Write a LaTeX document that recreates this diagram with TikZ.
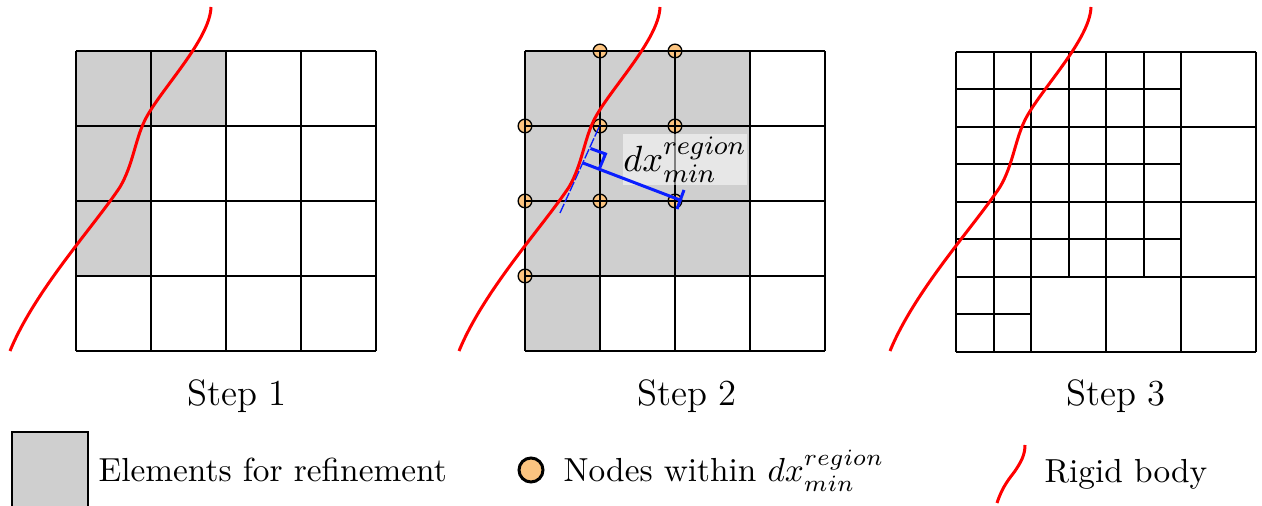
\documentclass[tikz,border=0pt]{standalone}
\definecolor{refgray}{RGB}{207,207,207}
\definecolor{nodeorange}{RGB}{252,196,128}
\definecolor{dxblue}{RGB}{10,30,255}
\begin{document}
\begin{tikzpicture}[x=0.3pt,y=-0.3pt,
  gridline/.style={line width=0.6pt, black},
  rigid/.style={red, line width=0.9pt},
  refcell/.style={fill=refgray},
  nodept/.style={circle, draw=black, line width=0.4pt, fill=nodeorange, minimum size=4.1pt, inner sep=0pt},
  steplabel/.style={font=\fontsize{11}{13}\selectfont},
  legendtext/.style={font=\fontsize{10}{12}\selectfont, anchor=base west, inner sep=0pt},
  dxline/.style={dxblue, line width=0.9pt},
  dxbox/.style={fill=white, fill opacity=0.5, text opacity=1, minimum width=37.2pt, minimum height=15.3pt, inner sep=0pt, font=\fontsize{11}{13}\selectfont}
]
\useasboundingbox (0,0) rectangle (1262,506);

% ---------- Step 1 ----------
\fill[refgray] (76,51) rectangle (226,126);
\fill[refgray] (76,126) rectangle (151,276);
\foreach \i in {0,...,4}{
  \draw[gridline] (76+75*\i,51) -- (76+75*\i,351);
  \draw[gridline] (76,51+75*\i) -- (376,51+75*\i);
}

% ---------- Step 2 ----------
\fill[refgray] (525,51) rectangle (750,276);
\fill[refgray] (525,276) rectangle (600,351);
\foreach \p [count=\k] in {(600,51),(675,51),(525,126),(600,126),(675,126),(525,201),(600,201),(675,201),(525,276)}{
  \node[nodept] (np\k) at \p {};
}
\foreach \i in {0,...,4}{
  \draw[gridline] (525+75*\i,51) -- (525+75*\i,351);
  \draw[gridline] (525,51+75*\i) -- (825,51+75*\i);
}
\node[dxbox] (dxlabel) at (685,159.5) {$dx^{region}_{min}$};
\coordinate (tA) at (560,213);
\coordinate (tB) at (600,125);
\coordinate (foot) at (583,163);
\coordinate (far) at (680,200);
\draw[dxblue, line width=0.4pt, dash pattern=on 3pt off 0.6pt] (tA) -- (tB);
\draw[dxline] (foot) -- (far);
\draw[dxline] (590.5,148.5) -- (605.5,154) -- (599,169.5);
\draw[dxline] (684,190) -- (677,209);

% ---------- Step 3 ----------
\foreach \i in {0,...,4}{
  \draw[gridline] (956+75*\i,52) -- (956+75*\i,352);
  \draw[gridline] (956,52+75*\i) -- (1256,52+75*\i);
}
\foreach \xx in {993.5,1068.5,1143.5}{
  \draw[gridline] (\xx,52) -- (\xx,277);
}
\draw[gridline] (993.5,277) -- (993.5,352);
\foreach \yy in {89.5,164.5,239.5}{
  \draw[gridline] (956,\yy) -- (1181,\yy);
}
\draw[gridline] (956,314.5) -- (1031,314.5);

% ---------- rigid body curves ----------
\foreach \ox in {0,449,880}{
  \draw[rigid, shift={(\ox,0)}] (10,351) .. controls (35,290) and (95,225) .. (120,187)
     .. controls (133,165) and (135,140) .. (145,120)
     .. controls (160,90) and (210,40) .. (211,7);
}

% ---------- step labels ----------
\node[steplabel] (s1) at (237,396) {Step 1};
\node[steplabel] (s2) at (687,396) {Step 2};
\node[steplabel] (s3) at (1116,396) {Step 3};

% ---------- legend ----------
\draw[gridline, fill=refgray] (12,432) rectangle (88,515);
\node[legendtext] (l1) at (98,482) {Elements for refinement};
\node[circle, draw=black, line width=0.9pt, fill=nodeorange, minimum size=7.2pt, inner sep=0pt] (lc) at (531,470) {};
\node[legendtext] (l2) at (563,482) {Nodes within $dx^{region}_{min}$};
\draw[rigid] (997,503) .. controls (1003,485) and (1010,478) .. (1015,471) .. controls (1021,462) and (1025,455) .. (1025,445);
\node[legendtext] (l3) at (1044,483) {Rigid body};
\end{tikzpicture}
\end{document}
